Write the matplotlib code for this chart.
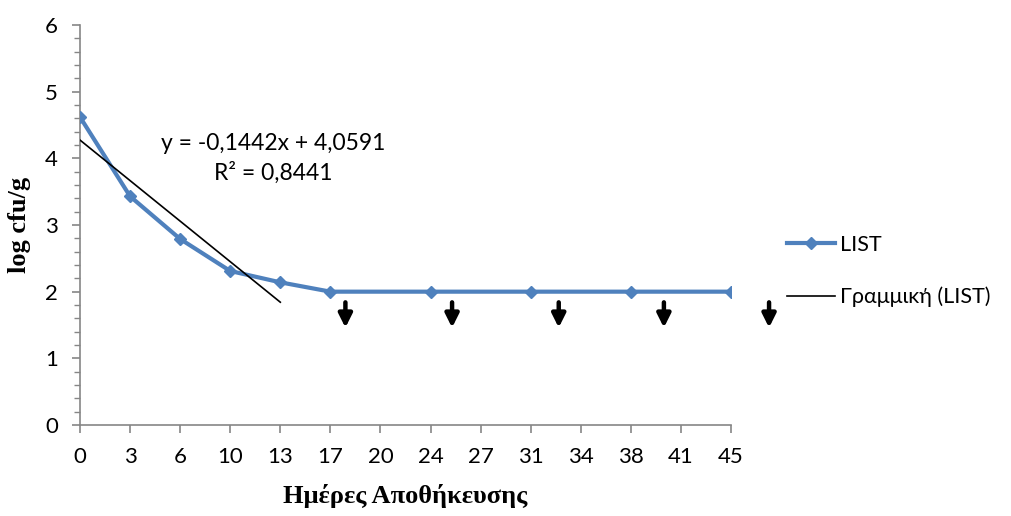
import numpy as np
import matplotlib.pyplot as plt
from matplotlib.ticker import MultipleLocator

# storage days (category labels) and log counts
day_labels = ['0', '3', '6', '10', '13', '17', '20', '24', '27', '31', '34', '38', '41', '45']
list_pos = [0, 1, 2, 3, 4, 5, 7, 9, 11, 13]
list_vals = [4.62, 3.43, 2.79, 2.31, 2.14, 2.0, 2.0, 2.0, 2.0, 2.0]
n_fit = 5  # trend line fitted on first points

# below detection limit arrows
arrow_pos = [5.3, 7.43, 9.56, 11.66, 13.76]
arrow_top = 1.84
arrow_tip = 1.46

eq_text = 'y = -0,1442x + 4,0591'
r2_text = 'R² = 0,8441'

blue = '#4f81bd'
grey = '#868686'
tick_font = 'Lato'

fig = plt.figure(figsize=(10.11, 5.16), dpi=100)
ax = fig.add_axes([80/1011, 91/516, 651/1011, 400/516])

ax.plot(list_pos, list_vals, '-D', color=blue, lw=3, ms=6.5, label='LIST', zorder=3)

coef = np.polyfit(list_pos[:n_fit], list_vals[:n_fit], 1)
xf = np.array([list_pos[0], list_pos[n_fit-1]])
ax.plot(xf, np.polyval(coef, xf), color='black', lw=1.2, label='Γραμμική (LIST)', zorder=4)

for xa in arrow_pos:
    ax.annotate('', xy=(xa, arrow_tip), xytext=(xa, arrow_top),
                arrowprops=dict(arrowstyle='-|>,head_length=0.8,head_width=0.4',
                                color='black', lw=3.2, shrinkA=0, shrinkB=0),
                annotation_clip=False)

ax.text(3.85, 4.22, eq_text, ha='center', va='center', fontsize=16.5, family=tick_font)
ax.text(3.85, 3.78, r2_text, ha='center', va='center', fontsize=16.5, family=tick_font)

ax.set_xlim(0, 13)
ax.set_ylim(0, 6)
ax.set_xticks(range(len(day_labels)))
ax.set_xticklabels(day_labels)
ax.yaxis.set_major_locator(MultipleLocator(1))
ax.yaxis.set_minor_locator(MultipleLocator(0.2))
for lab in ax.get_xticklabels() + ax.get_yticklabels():
    lab.set_family(tick_font)
    lab.set_fontsize(16)
ax.tick_params(axis='both', which='major', direction='out', length=6, color=grey, width=1.2)
ax.tick_params(axis='y', which='minor', direction='out', length=4, color=grey, width=1)
ax.tick_params(axis='x', pad=10)
ax.tick_params(axis='y', pad=10)
for s in ['top', 'right']:
    ax.spines[s].set_visible(False)
for s in ['left', 'bottom']:
    ax.spines[s].set_color(grey)
    ax.spines[s].set_linewidth(1.2)

ax.set_xlabel('Ημέρες Αποθήκευσης', family='Liberation Serif', fontweight='bold', fontsize=19, labelpad=12)
ax.set_ylabel('log cfu/g', family='Liberation Serif', fontweight='bold', fontsize=19, labelpad=10)

fig.legend(loc='center left', bbox_to_anchor=(768/1011, 245/516), frameon=False,
           prop={'family': tick_font, 'size': 15.5}, handlelength=2.2, labelspacing=1.5,
           handletextpad=0.25)

fig.savefig('out.png', dpi=100)
